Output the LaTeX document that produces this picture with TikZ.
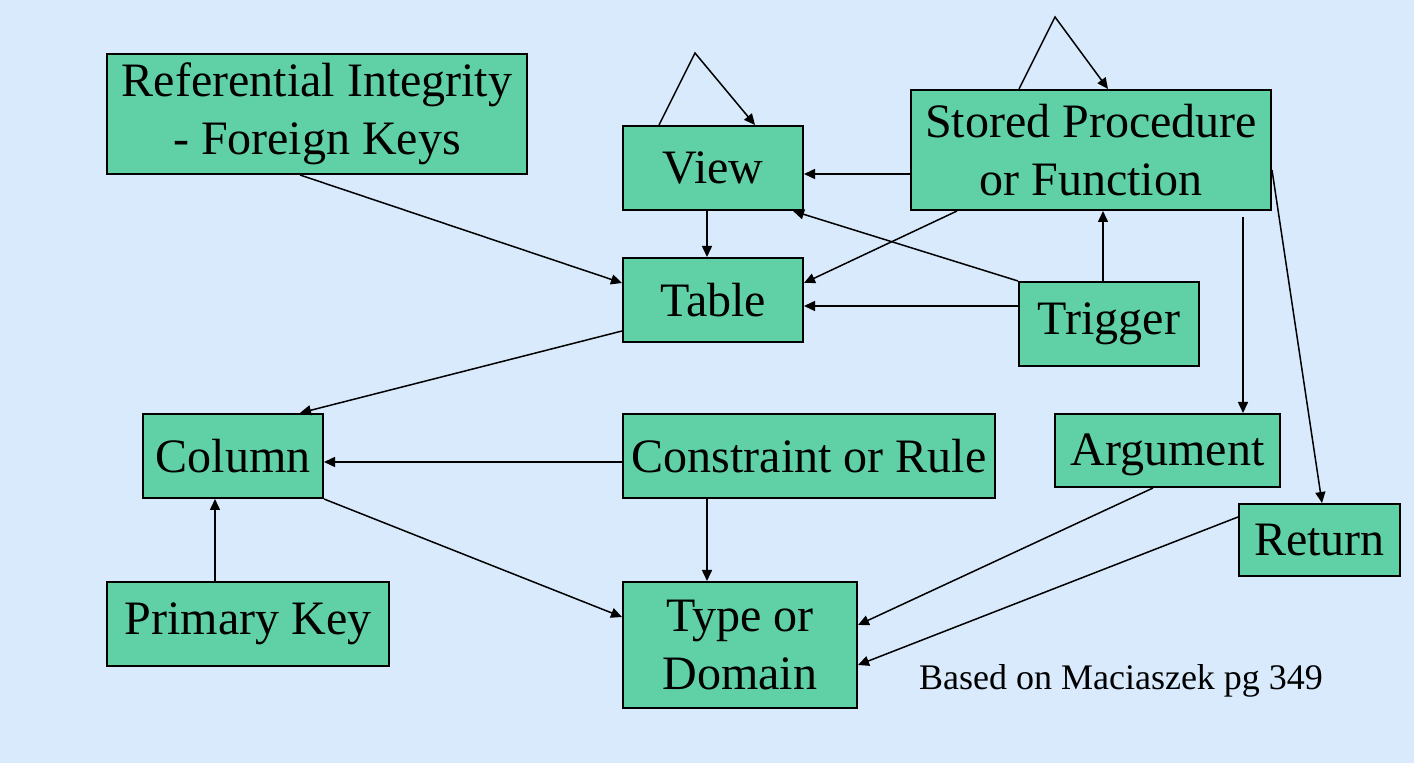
\documentclass[tikz,border=0pt]{standalone}
\usepackage{fontspec}
\setmainfont{Liberation Serif}
\usepackage{xcolor}
\usetikzlibrary{calc,arrows.meta}

\definecolor{slidebg}{RGB}{216,234,251}
\definecolor{boxgreen}{RGB}{96,208,166}

\tikzset{
  entity/.style={draw, line width=1pt, fill=boxgreen, inner sep=0pt,
    align=center, font=\fontsize{24}{29}\selectfont},
  link/.style={line width=0.75pt, -{Triangle[length=5.5pt,width=5pt]}}
}

\begin{document}
\begin{tikzpicture}[x=0.5pt, y=-0.5pt]
  % Slide background
  \fill[slidebg] (0,0) rectangle (1414,763);
  \useasboundingbox (0,0) rectangle (1414,763);

  % Boxes
  \node[entity, minimum width=210pt, minimum height=60pt] (refint) at (317,114) {Referential Integrity\\- Foreign Keys};
  \node[entity, minimum width=90pt, minimum height=42pt] (view) at (713,168) {View};
  \node[entity, minimum width=180pt, minimum height=60pt] (stproc) at (1091,150) {Stored Procedure\\or Function};
  \node[entity, minimum width=90pt, minimum height=42pt] (table) at (713,300) {Table};
  \node[entity, minimum width=90pt, minimum height=42pt] (trigger) at (1109,324) {Trigger};
  \node[entity, minimum width=90pt, minimum height=42pt] (column) at (233,456) {Column};
  \node[entity, minimum width=186pt, minimum height=42pt] (constraint) at (809,456) {Constraint or Rule};
  \node[entity, minimum width=112.5pt, minimum height=36.5pt, text height=20pt, text depth=5pt] (argument) at (1167.5,450.5) {Argument};
  \node[entity, minimum width=80.5pt, minimum height=36pt] (return) at (1319.5,540) {Return};
  \node[entity, minimum width=141pt, minimum height=42pt] (primkey) at (248,624) {Primary Key};
  \node[entity, minimum width=117pt, minimum height=63pt] (typedom) at (740,645) {Type or\\Domain};

  % Source note
  \node[font=\fontsize{18}{22}\selectfont] (note) at (1121,681) {Based on Maciaszek pg 349};

  % Self references
  \draw[link] ($(view.north)+(-54,0)$) -- ($(view.north)+(-18,-72)$) -- ($(view.north)+(42,0)$);
  \draw[link] ($(stproc.north)+(-72,0)$) -- ($(stproc.north)+(-36,-72)$) -- ($(stproc.north)+(17,0)$);

  % Into Table and View
  \draw[link] ($(refint.south)+(-17,0)$) -- ($(table.west)+(0,-17)$);
  \draw[link] ($(view.south)+(-6,0)$) -- ($(table.north)+(-6,0)$);
  \draw[link] ($(stproc.west)+(0,24)$) -- ($(view.east)+(0,6)$);
  \draw[link] ($(stproc.south)+(-134,0)$) -- ($(table.east)+(0,-17)$);
  \draw[link] (trigger.north west) -- ($(view.south east)+(-11,0)$);
  \draw[link] ($(trigger.west)+(0,-18)$) -- ($(table.east)+(0,6)$);
  \draw[link] ($(trigger.north)+(-6,0)$) -- ($(stproc.south)+(12,0)$);

  % Procedure parts
  \draw[link] ($(stproc.south)+(152,6)$) -- ($(argument.north)+(75.5,0)$);
  \draw[link] ($(stproc.east)+(0,20)$) -- ($(return.north)+(2.5,0)$);

  % Columns and types
  \draw[link] ($(table.south west)+(0,-12)$) -- ($(column.north)+(67,0)$);
  \draw[link] ($(constraint.west)+(0,6)$) -- ($(column.east)+(0,6)$);
  \draw[link] (column.south east) -- ($(typedom.west)+(0,-28)$);
  \draw[link] ($(primkey.north)+(-33,0)$) -- ($(column.south)+(-18,0)$);
  \draw[link] ($(constraint.south)+(-102,0)$) -- ($(typedom.north)+(-33,0)$);
  \draw[link] ($(argument.south)+(-14.5,0)$) -- ($(typedom.east)+(0,-20)$);
  \draw[link] ($(return.west)+(0,-23)$) -- ($(typedom.east)+(0,20)$);
\end{tikzpicture}
\end{document}
